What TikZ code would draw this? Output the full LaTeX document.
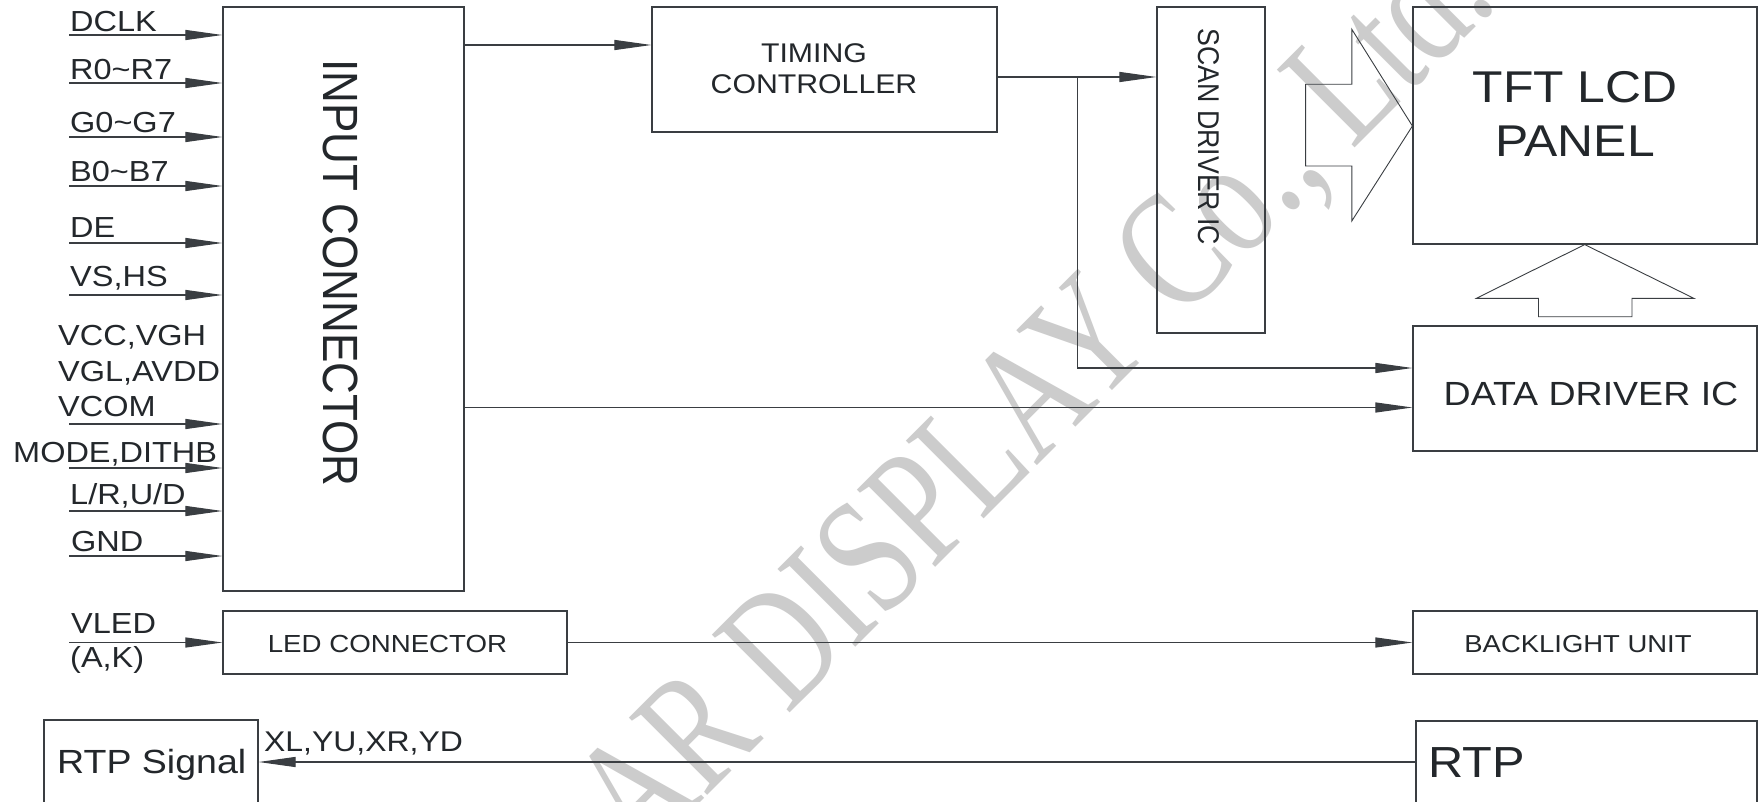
\documentclass[tikz,border=0pt]{standalone}
\usepackage{fontspec}
\setmainfont{Liberation Sans}
\newfontfamily\wfont[FakeStretch=1.12]{Liberation Sans}
\newfontfamily\cfont[FakeStretch=0.89]{Liberation Sans}
\newfontfamily\wmfont[FakeStretch=0.756]{Liberation Serif}
\usetikzlibrary{arrows.meta,fit}
\definecolor{ink}{RGB}{35,39,43}
\definecolor{ln}{RGB}{58,62,66}
\definecolor{wmc}{RGB}{204,204,204}
\newcommand\fs[1]{\fontsize{#1}{#1}\selectfont}
\begin{document}
\begin{tikzpicture}[x=1pt,y=-1pt,
 blk/.style={draw=ln, line width=1.2pt, inner sep=0pt},
 lbl/.style={text=ink, inner sep=0pt, anchor=base west, font=\wfont\fs{29}},
 txt/.style={text=ink, inner sep=0pt, anchor=base},
 sig/.style={draw=ln, line width=1.1pt, -{Triangle[length=37pt,width=10pt]}},
 hollow/.style={draw=ln, line width=0.9pt, line join=miter}]
\useasboundingbox (0,0) rectangle (1758,802);
\fill[white] (0,0) rectangle (1758,802);
% watermark
\begin{scope}
\clip (0,0) rectangle (1758,802);
\node[rotate=45, anchor=base west, inner sep=0pt, text=wmc, font=\wmfont\fs{168}] (wm) at (640,863) {AR DISPLAY Co., Ltd.};
\end{scope}
% blocks
\node[blk, fit={(223,7)(464,591)}] (inc) {};
\node[blk, fit={(652,7)(997,132)}] (tcon) {};
\node[blk, fit={(1157,7)(1265,333)}] (scan) {};
\node[blk, fit={(1413,7)(1757,244)}] (panel) {};
\node[blk, fit={(1413,326)(1757,451)}] (ddic) {};
\node[blk, fit={(223,611)(567,674)}] (ledc) {};
\node[blk, fit={(1413,611)(1757,674)}] (blu) {};
\node[blk, fit={(44,720)(258,815)}] (rtps) {};
\node[blk, fit={(1416,721)(1757,815)}] (rtp) {};
% block texts
\node[text=ink, inner sep=0pt, rotate=-90, font=\cfont\fs{49.5}] (inct) at (341,273) {INPUT CONNECTOR};
\node[text=ink, inner sep=0pt, rotate=-90, font=\cfont\fs{30}] (scant) at (1209,137) {SCAN DRIVER IC};
\node[txt, font=\wfont\fs{27}] (tc1) at (814,62.5) {TIMING};
\node[txt, font=\wfont\fs{27}] (tc2) at (814,94) {CONTROLLER};
\node[txt, font=\wfont\fs{44.5}] (p1) at (1575,103) {TFT LCD};
\node[txt, font=\wfont\fs{44.5}] (p2) at (1575,157) {PANEL};
\node[txt, font=\wfont\fs{33.5}] (ddt) at (1591,405) {DATA DRIVER IC};
\node[txt, font=\wfont\fs{24.7}] (ledt) at (387.5,652) {LED CONNECTOR};
\node[txt, font=\wfont\fs{24.5}] (blut) at (1578,652) {BACKLIGHT UNIT};
\node[lbl, font=\wfont\fs{43.5}] (rtpt) at (1428,777) {RTP};
\node[lbl, font=\wfont\fs{33.5}] (rtpst) at (57,773) {RTP Signal};
\node[lbl, font=\wfont\fs{28.5}] (xy) at (264,751) {XL,YU,XR,YD};
% left labels
\node[lbl] (l1) at (70,32) {DCLK};
\node[lbl] (l2) at (70,80) {R0\textasciitilde R7};
\node[lbl] (l3) at (70,133) {G0\textasciitilde G7};
\node[lbl] (l4) at (70,182) {B0\textasciitilde B7};
\node[lbl] (l5) at (70,238) {DE};
\node[lbl] (l6) at (70,287) {VS,HS};
\node[lbl] (l7) at (58,345) {VCC,VGH};
\node[lbl] (l8) at (58,381) {VGL,AVDD};
\node[lbl] (l9) at (58,416) {VCOM};
\node[lbl] (l10) at (13,462) {MODE,DITHB};
\node[lbl] (l11) at (70,504) {L/R,U/D};
\node[lbl] (l12) at (71,551) {GND};
\node[lbl] (l13) at (71,633) {VLED};
\node[lbl] (l14) at (70,667) {(A,K)};
% input arrows
\foreach \n/\yy in {1/35,2/83,3/137,4/186,5/243,6/295,7/424,8/468,9/511,10/556}{
  \coordinate (i\n) at (69,\yy);
  \draw[sig] (i\n) -- (i\n -| inc.west);
}
\coordinate (iv) at (69,642.5);
\draw[sig] (iv) -- (iv -| ledc.west);
% internal connectors
\coordinate (a1) at (464,45);
\draw[sig] (a1 -| inc.east) -- (a1 -| tcon.west);
\coordinate (a2) at (997,77);
\draw[sig] (a2 -| tcon.east) -- (a2 -| scan.west);
\coordinate (br) at (1077.5,77);
\coordinate (bb) at (1077.5,368);
\draw[sig] (br) -- (bb) -- (bb -| ddic.west);
\coordinate (a3) at (464,407.5);
\draw[sig] (a3 -| inc.east) -- (a3 -| ddic.west);
\draw[sig] (ledc.east) -- (blu.west);
\coordinate (a4) at (0,762);
\draw[sig] (a4 -| rtp.west) -- (a4 -| rtps.east);
% hollow arrows
\coordinate (ht) at (1413,126);
\draw[hollow] (1305.6,84.3) -- (1351.8,84.3) -- (1351.8,29.3) -- (ht -| panel.west) -- (1351.8,221) -- (1351.8,166) -- (1305.6,166) -- cycle;
\coordinate (vt) at (1584.7,244);
\draw[hollow] (1538.5,316.7) -- (1538.5,298.3) -- (1476.4,298.3) -- (vt |- panel.south) -- (1693.8,298.3) -- (1632,298.3) -- (1632,316.7) -- cycle;
\end{tikzpicture}
\end{document}
